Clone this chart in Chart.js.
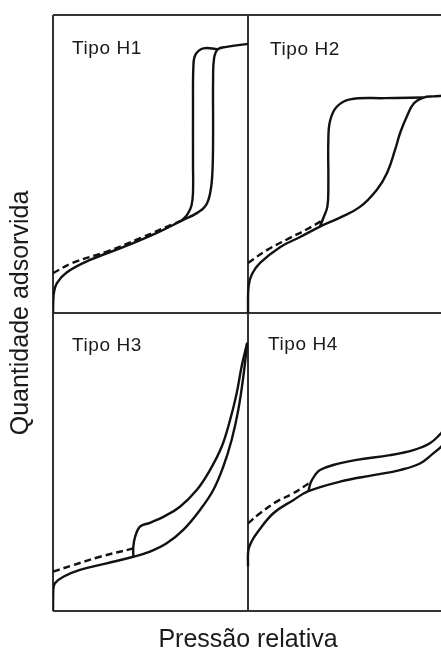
<!DOCTYPE html>
<html>
<head>
<meta charset="utf-8">
<script src="https://cdn.jsdelivr.net/npm/chart.js@4/dist/chart.umd.min.js"></script>
<style>
  html, body { margin: 0; padding: 0; background: #fff; overflow: hidden; }
  #wrap { position: relative; width: 441px; height: 653px; overflow: hidden; }
  canvas { position: absolute; left: 0; top: 0; }
</style>
</head>
<body>
<div id="wrap"><canvas id="c" width="444" height="653"></canvas></div>
<script>
// Hysteresis loop types (IUPAC H1–H4). Each curve: [relative pressure, amount adsorbed] pairs,
// amount as a fraction of the panel height.
const panelNames = ['Tipo H1', 'Tipo H2', 'Tipo H3', 'Tipo H4'];

const h1Adsorption = [[0,0],[0.003,0.06],[0.02,0.1],[0.07,0.136],[0.19,0.178],[0.36,0.221],[0.53,0.268],
  [0.66,0.31],[0.74,0.336],[0.785,0.362],[0.808,0.41],[0.818,0.48],[0.821,0.6],[0.821,0.78],[0.826,0.855],
  [0.845,0.885],[0.89,0.893],[1.0,0.903]];
const h1Desorption = [[0.845,0.885],[0.771,0.888],[0.73,0.866],[0.72,0.827],[0.718,0.7],[0.718,0.5],
  [0.718,0.405],[0.71,0.36],[0.69,0.332],[0.66,0.31]];
const h1Extension = [[0,0.134],[0.10,0.168],[0.28,0.207],[0.45,0.252],[0.615,0.298],[0.66,0.31]];

const h2Adsorption = [[0,0],[0.003,0.09],[0.02,0.13],[0.062,0.168],[0.164,0.221],[0.267,0.255],[0.369,0.29],
  [0.472,0.32],[0.574,0.356],[0.66,0.413],[0.713,0.47],[0.754,0.547],[0.78,0.604],[0.815,0.66],[0.85,0.703],
  [0.9,0.723],[0.95,0.727],[1.0,0.729]];
const h2Desorption = [[0.9,0.723],[0.7,0.721],[0.523,0.717],[0.455,0.692],[0.421,0.645],[0.412,0.58],
  [0.412,0.424],[0.407,0.357],[0.386,0.318],[0.369,0.29]];
const h2Extension = [[0,0.168],[0.097,0.211],[0.215,0.252],[0.30,0.28],[0.38,0.31]];

const h3Adsorption = [[0,0],[0.0015,0.07],[0.01,0.093],[0.053,0.115],[0.138,0.138],[0.275,0.16],[0.412,0.182],
  [0.497,0.199],[0.583,0.227],[0.668,0.272],[0.754,0.339],[0.822,0.406],[0.873,0.484],[0.916,0.574],
  [0.95,0.674],[0.976,0.786],[0.996,0.9]];
const h3Desorption = [[0.996,0.9],[0.967,0.82],[0.942,0.731],[0.908,0.641],[0.865,0.551],[0.805,0.473],
  [0.737,0.406],[0.651,0.35],[0.566,0.316],[0.497,0.296],[0.446,0.283],[0.421,0.249],[0.412,0.216],[0.412,0.182]];
const h3Extension = [[0,0.132],[0.104,0.154],[0.241,0.182],[0.412,0.21]];

const h4Adsorption = [[0,0.15],[0.002,0.205],[0.02,0.235],[0.045,0.261],[0.13,0.328],[0.232,0.372],
  [0.31,0.402],[0.472,0.434],[0.643,0.456],[0.779,0.473],[0.882,0.495],[0.95,0.529],[0.99,0.551],[1.0,0.56]];
const h4Desorption = [[1.0,0.605],[0.99,0.596],[0.933,0.563],[0.848,0.54],[0.728,0.523],[0.557,0.507],
  [0.437,0.49],[0.369,0.473],[0.344,0.456],[0.322,0.432],[0.31,0.402]];
const h4Extension = [[0,0.294],[0.062,0.328],[0.147,0.367],[0.232,0.395],[0.31,0.428]];

const xTitle = 'Pressão relativa';
const yTitle = 'Quantidade adsorvida';

// 2x2 layout: panel column/row offsets on a shared 0..2 grid
const panels = [
  { name: panelNames[0], col: 0, row: 1, curves: [h1Adsorption, h1Desorption, h1Extension], label: [19, 39] },
  { name: panelNames[1], col: 1, row: 1, curves: [h2Adsorption, h2Desorption, h2Extension], label: [22, 40] },
  { name: panelNames[2], col: 0, row: 0, curves: [h3Adsorption, h3Desorption, h3Extension], label: [19, 38] },
  { name: panelNames[3], col: 1, row: 0, curves: [h4Adsorption, h4Desorption, h4Extension], label: [20, 37] }
];

const ink = '#111';
const datasets = [];
panels.forEach(p => {
  p.curves.forEach((curve, i) => {
    datasets.push({
      data: curve.map(([x, y]) => ({ x: x + p.col, y: y + p.row })),
      showLine: true,
      borderColor: ink,
      borderWidth: 2.4,
      borderDash: i === 2 ? [7, 4] : [],
      pointRadius: 0,
      tension: 0.4,
      fill: false
    });
  });
});

const panelLabels = {
  id: 'panelLabels',
  afterDatasetsDraw(chart) {
    const { ctx, scales: { x, y } } = chart;
    ctx.save();
    ctx.fillStyle = '#1a1a1a';
    ctx.font = '19px "Liberation Sans", Arial, sans-serif';
    ctx.letterSpacing = '0.6px';
    ctx.textBaseline = 'alphabetic';
    ctx.textAlign = 'left';
    panels.forEach(p => {
      const px = x.getPixelForValue(p.col) + p.label[0];
      const py = y.getPixelForValue(p.row + 1) + p.label[1];
      ctx.fillText(p.name, px, py);
    });
    ctx.restore();
  }
};

const frame = { color: '#333', lineWidth: 2, drawTicks: false };
const titleFont = { family: '"Liberation Sans", Arial, sans-serif', size: 25, lineHeight: 1 };

new Chart(document.getElementById('c'), {
  type: 'scatter',
  data: { datasets },
  options: {
    responsive: false,
    animation: false,
    layout: { padding: { top: 15, right: 1, bottom: 0, left: 0 } },
    plugins: { legend: { display: false }, tooltip: { enabled: false } },
    scales: {
      x: {
        type: 'linear', min: 0, max: 2,
        ticks: { display: false, stepSize: 1 },
        grid: frame,
        border: { display: false },
        title: { display: true, text: xTitle, color: '#1a1a1a', font: titleFont, padding: { top: 17, bottom: 0 } }
      },
      y: {
        type: 'linear', min: 0, max: 2,
        ticks: { display: false, stepSize: 1 },
        grid: frame,
        border: { display: false },
        title: { display: true, text: yTitle, color: '#1a1a1a', font: titleFont, padding: { top: 8.5, bottom: 19.5 } }
      }
    }
  },
  plugins: [panelLabels]
});
</script>
</body>
</html>
